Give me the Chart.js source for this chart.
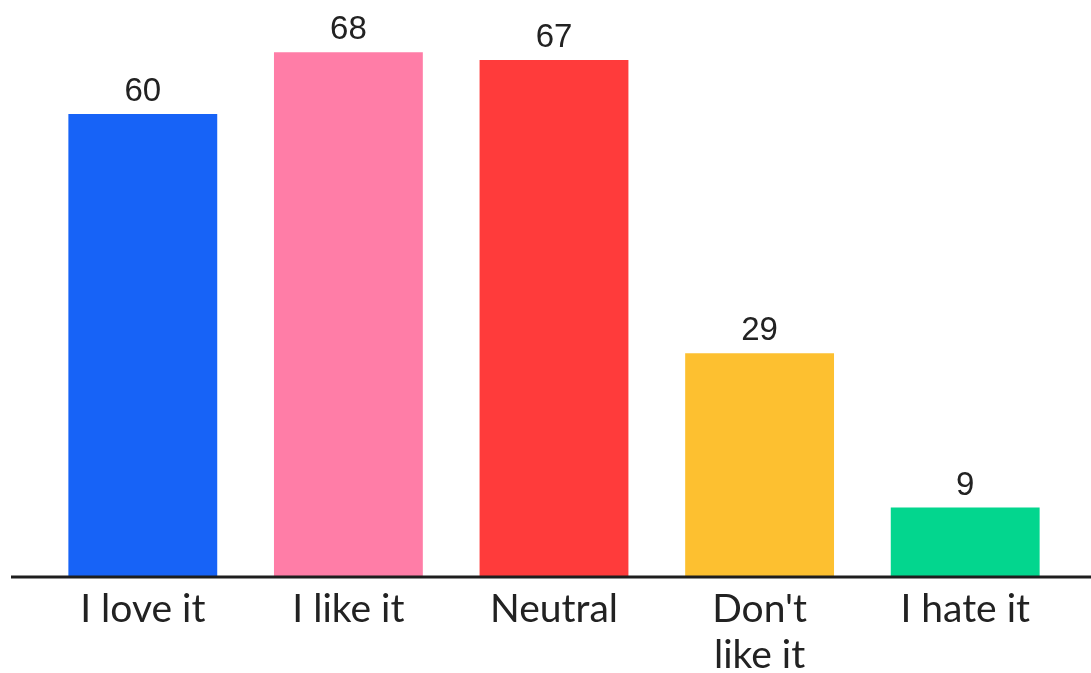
<!DOCTYPE html>
<html>
<head>
<meta charset="utf-8">
<script src="https://cdn.jsdelivr.net/npm/chart.js@4/dist/chart.umd.min.js"></script>
<style>
  html, body { margin: 0; padding: 0; background: #ffffff; }
  #wrap { width: 1091px; height: 673px; position: relative; }
</style>
</head>
<body>
<div id="wrap"><canvas id="myChart"></canvas></div>
<script>
    const categories = ["I love it", "I like it", "Neutral", ["Don't", "like it"], "I hate it"];
    const votes = [60, 68, 67, 29, 9];
    const barColors = ["#1763F7", "#FF7DA7", "#FF3B3B", "#FDC030", "#03D68E"];

    // value labels over each bar + the long base line
    const extras = {
        id: "extras",
        afterDatasetsDraw(chart) {
            const ctx = chart.ctx;
            const meta = chart.getDatasetMeta(0);
            ctx.save();
            ctx.fillStyle = "#222222";
            ctx.font = "33px 'Liberation Sans', Arial, sans-serif";
            ctx.textAlign = "center";
            ctx.textBaseline = "alphabetic";
            meta.data.forEach((bar, i) => {
                ctx.fillText(String(votes[i]), bar.x, bar.y - 13);
            });
            const y = chart.chartArea.bottom;
            ctx.strokeStyle = "#1e1e1e";
            ctx.lineWidth = 3;
            ctx.beginPath();
            ctx.moveTo(11, y);
            ctx.lineTo(chart.width, y);
            ctx.stroke();
            ctx.restore();
        }
    };

    const ctx = document.getElementById("myChart").getContext("2d");

    new Chart(ctx, {
        type: "bar",
        data: {
            labels: categories,
            datasets: [
                {
                    data: votes,
                    backgroundColor: barColors,
                    borderWidth: 0,
                    categoryPercentage: 1,
                    barPercentage: 0.724
                }
            ]
        },
        options: {
            responsive: true,
            maintainAspectRatio: false,
            animation: false,
            layout: {
                padding: { left: 40, right: 23, top: 2, bottom: 0 }
            },
            plugins: {
                legend: { display: false },
                tooltip: { enabled: false }
            },
            scales: {
                x: {
                    grid: { display: false },
                    border: { display: false },
                    ticks: {
                        color: "#222222",
                        padding: 1,
                        maxRotation: 0,
                        autoSkip: false,
                        font: {
                            family: "Lato, 'Noto Sans', sans-serif",
                            size: 39,
                            lineHeight: 1.18
                        }
                    },
                    afterFit(scale) {
                        scale.height = 96;
                    }
                },
                y: {
                    display: false,
                    min: 0,
                    max: 74.5
                }
            }
        },
        plugins: [extras]
    });
</script>
</body>
</html>
